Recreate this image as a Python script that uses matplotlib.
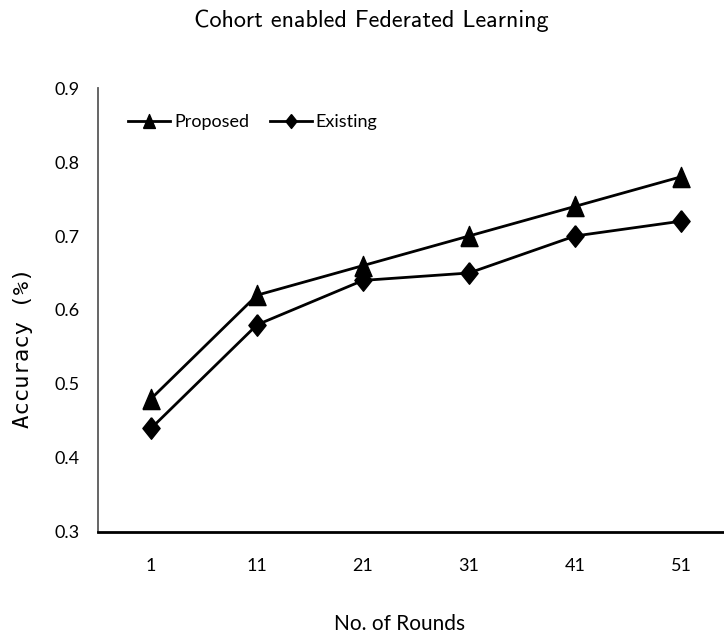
import matplotlib
matplotlib.use("Agg")
import matplotlib.pyplot as plt
from matplotlib.lines import Line2D

rounds = ["1", "11", "21", "31", "41", "51"]
proposed = [0.48, 0.62, 0.66, 0.70, 0.74, 0.78]
existing = [0.44, 0.58, 0.64, 0.65, 0.70, 0.72]
y_ticks = [0.3, 0.4, 0.5, 0.6, 0.7, 0.8, 0.9]

# tall triangle and diamond markers
tri = [(-0.85, -1.0), (0.85, -1.0), (0.0, 1.0), (-0.85, -1.0)]
dia = [(0.0, 1.0), (0.8, 0.0), (0.0, -1.0), (-0.8, 0.0), (0.0, 1.0)]

fig = plt.figure(figsize=(7.24, 6.41), dpi=100)
ax = fig.add_axes([98 / 724, 1 - 532 / 641, 636 / 724, 444 / 641])

x = list(range(len(rounds)))
ax.plot(x, proposed, color="black", lw=2.0, marker=tri, ms=14.5, clip_on=False)
ax.plot(x, existing, color="black", lw=2.0, marker=dia, ms=15.5, clip_on=False)

ax.set_xlim(-0.5, 5.5)
ax.set_ylim(0.3, 0.9)
ax.set_xticks(x)
ax.set_xticklabels(rounds)
ax.set_yticks(y_ticks)
ax.set_yticklabels([f"{v:.1f}" for v in y_ticks])
ax.tick_params(length=0, labelsize=13)
ax.tick_params(axis="x", pad=19)
ax.tick_params(axis="y", pad=13)
for lab in ax.get_xticklabels() + ax.get_yticklabels():
    lab.set_family("Lato")

for s in ("top", "right"):
    ax.spines[s].set_visible(False)
ax.spines["left"].set_color("#595959")
ax.spines["left"].set_linewidth(1.3)
ax.spines["bottom"].set_color("black")
ax.spines["bottom"].set_linewidth(2.0)

fig.text(371 / 724, 1 - 21 / 641, "Cohort enabled Federated Learning",
         family="cmss10", fontsize=17.4, ha="center", va="center")
fig.text(400 / 724, 1 - 624 / 641, "No. of Rounds",
         family="Lato", fontsize=15, ha="center", va="center")
fig.text(23 / 724, 1 - 348 / 641, "Accuracy (%)",
         family="DejaVu Sans Mono", fontsize=16, rotation=90,
         ha="center", va="center")

handles = [
    Line2D([], [], color="black", lw=2.0, marker=tri, ms=10),
    Line2D([], [], color="black", lw=2.0, marker=dia, ms=10),
]
leg = fig.legend(handles, ["Proposed", "Existing"], loc="center left",
                 bbox_to_anchor=(128 / 724, 1 - 122 / 641),
                 bbox_transform=fig.transFigure, ncol=2, frameon=False,
                 borderpad=0, borderaxespad=0,
                 handlelength=2.33, handletextpad=0.22, columnspacing=1.15,
                 prop={"family": "Lato", "size": 13})

fig.savefig("out.png", dpi=100)
